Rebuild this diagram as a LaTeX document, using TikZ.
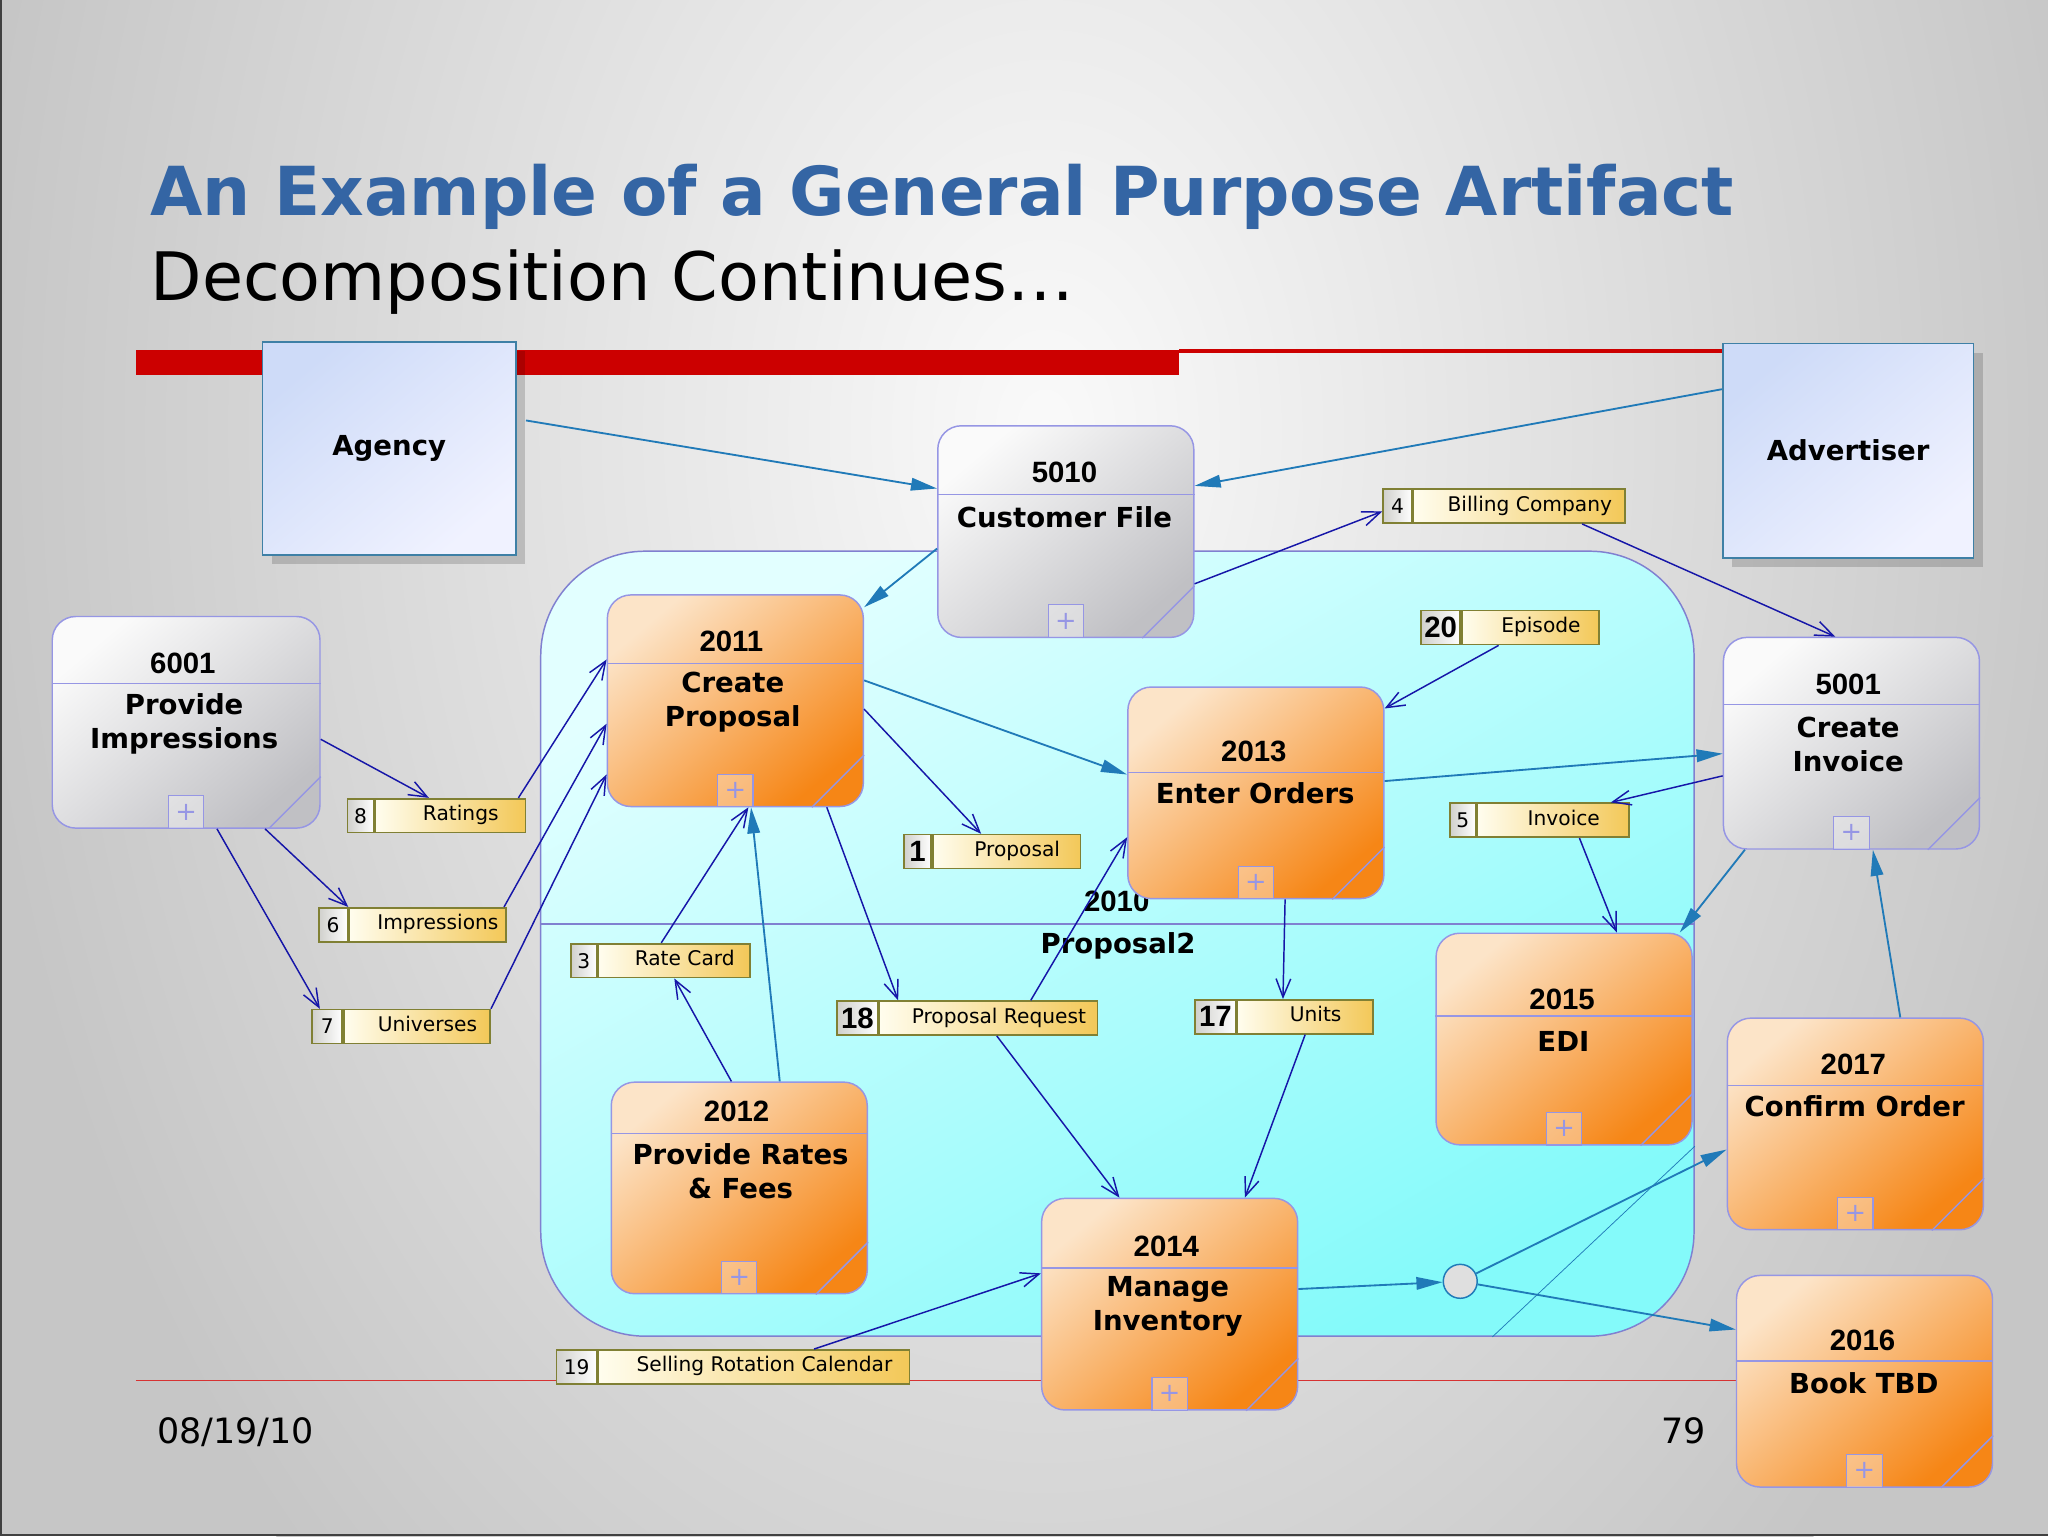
\documentclass[tikz,border=0pt]{standalone}
\usepackage{fontspec}
\setmainfont{DejaVu Sans}
\newfontfamily\narrowfont{Liberation Sans}
\usetikzlibrary{positioning, arrows.meta, shadows}
\definecolor{ttlblue}{RGB}{52,101,164}
\definecolor{slidered}{RGB}{204,0,0}
\definecolor{lavender}{RGB}{150,150,228}
\definecolor{contline}{RGB}{128,128,208}
\definecolor{flowteal}{RGB}{32,122,184}
\definecolor{flowblue}{RGB}{22,22,168}
\definecolor{olive}{RGB}{128,128,52}
\definecolor{entline}{RGB}{62,128,166}
\definecolor{orangeA}{RGB}{252,228,200}
\definecolor{orangeB}{RGB}{246,134,22}
\definecolor{grayA}{RGB}{250,250,250}
\definecolor{grayB}{RGB}{192,192,196}
\definecolor{cyanA}{RGB}{226,255,255}
\definecolor{cyanB}{RGB}{132,250,250}
\definecolor{entA}{RGB}{206,219,248}
\definecolor{entB}{RGB}{240,242,255}
\definecolor{flowA}{RGB}{255,253,238}
\definecolor{flowB}{RGB}{243,200,88}
\definecolor{cellA}{RGB}{208,208,204}

\begin{document}
\begin{tikzpicture}[x=0.25mm, y=-0.25mm,
        procbox/.style={draw=lavender, line width=0.8pt, rounded corners=4.5mm,
            minimum width=49mm, minimum height=40.5mm, inner sep=0pt},
        oproc/.style={procbox, top color=orangeA, bottom color=orangeB, shading angle=40},
        gproc/.style={procbox, top color=grayA, bottom color=grayB, shading angle=40},
        contbox/.style={draw=contline, line width=0.8pt, rounded corners=20mm,
            top color=cyanA, bottom color=cyanB, shading angle=30,
            minimum width=220.75mm, minimum height=150.25mm, inner sep=0pt},
        entbox/.style={draw=entline, line width=1pt, top color=entA, bottom color=entB,
            shading angle=40, minimum width=48.5mm, minimum height=40.75mm,
            font=\bfseries\fontsize{15}{18}\selectfont,
            drop shadow={shadow xshift=1.75mm, shadow yshift=-1.75mm, fill=black, opacity=0.16}},
        hdr/.style={draw=lavender, line width=0.8pt},
        pnum/.style={font=\narrowfont\bfseries\fontsize{16}{18}\selectfont, inner sep=0pt},
        pname/.style={font=\bfseries\fontsize{15}{18.5}\selectfont, align=center, inner sep=0pt},
        plusbox/.style={draw=lavender, line width=0.6pt, fill=white, fill opacity=0.35,
            text opacity=1, text=lavender, minimum width=6.75mm, minimum height=6.25mm,
            inner sep=0pt, font=\fontsize{14}{14}\selectfont},
        numbox/.style={draw=olive, line width=0.9pt, left color=cellA, right color=white,
            minimum width=5.5mm, minimum height=6.5mm, inner sep=0pt,
            font=\fontsize{11}{12}\selectfont},
        bignum/.style={numbox, minimum width=7.75mm,
            font=\narrowfont\bfseries\fontsize{16}{17}\selectfont},
        flowbox/.style={draw=olive, line width=0.9pt, left color=flowA, right color=flowB,
            minimum height=6.5mm, inner sep=0pt, text height=8pt, text depth=2.5pt,
            font=\fontsize{11}{12}\selectfont, execute at begin node={\hspace*{4mm}}},
        junction/.style={draw=flowteal, line width=0.8pt, fill=gray!25, circle,
            minimum size=6.5mm, inner sep=0pt},
        tealflow/.style={draw=flowteal, line width=1pt, -{Triangle[length=5mm, width=2.4mm]}},
        blueflow/.style={draw=flowblue, line width=0.8pt, -{Straight Barb[length=3.5mm, width=2.8mm]}}
    ]

    % Slide background
    \useasboundingbox (0,0) rectangle (1568,1176);
    \begin{scope}
        \clip (0,0) rectangle (1568,1176);
        \fill[gray!45] (0,0) rectangle (1568,1176);
        \shade[inner color=gray!4, outer color=gray!45] (800,330) ellipse (830 and 1200);
    \end{scope}
    \draw[black!75, line width=1.2pt] (1,0) -- (1,1175) -- (1568,1175);

    % Title
    \node[anchor=base west, inner sep=0pt, text=ttlblue,
          font=\bfseries\fontsize{36.8}{40}\selectfont] (ttl) at (115,165)
        {An Example of a General Purpose Artifact};
    \node[anchor=base west, inner sep=0pt, font=\fontsize{36.4}{40}\selectfont] (sub) at (115,230)
        {Decomposition Continues…};

    % Rules
    \fill[slidered] (104,268) rectangle (903,287);
    \fill[slidered] (903,267.5) rectangle (1320,270);
    \draw[slidered!80, line width=0.5pt] (104,1057) -- (1330,1057);

    % Footer
    \node[anchor=base west, inner sep=0pt, font=\fontsize{19}{22}\selectfont] (date) at (120,1105) {08/19/10};
    \node[anchor=base west, inner sep=0pt, font=\fontsize{19}{22}\selectfont] (page) at (1272,1105) {79};

    % 2010 Proposal2
    \node[contbox] (p2010) at (855.5,722.5) {};
    \draw[hdr, draw=contline] ([yshift=-71.5mm]p2010.north west) -- ([yshift=-71.5mm]p2010.north east);
    \draw[flowteal, line width=0.4pt] ([xshift=-38.75mm]p2010.south east) -- ([yshift=36.5mm]p2010.south east);
    \node[pnum] (t2010) at (855,690) {2010};
    \node[pname] (l2010) at (856,724) {Proposal2};

    % External entities
    \node[entbox] (ag) at (298,343.5) {Agency};
    \node[entbox, minimum width=48mm, minimum height=41mm] (adv) at (1415,345) {Advertiser};

    % 6001 Provide Impressions
    \node[gproc, minimum width=51.25mm] (p6001) at (142.5,553) {};
    \draw[hdr] ([yshift=-13mm]p6001.north west) -- ([yshift=-13mm]p6001.north east);
    \draw[hdr] ([xshift=-10mm]p6001.south east) -- ([yshift=10mm]p6001.south east);
    \node[plusbox, above=0pt of p6001.south] (x6001) {+};
    \node[pnum] (t6001) at (140,508) {6001};
    \node[pname] (l6001) at (141,554) {Provide\\Impressions};

    % 5010 Customer File
    \node[gproc] (p5010) at (816,407) {};
    \draw[hdr] ([yshift=-13.25mm]p5010.north west) -- ([yshift=-13.25mm]p5010.north east);
    \draw[hdr] ([xshift=-10mm]p5010.south east) -- ([yshift=10mm]p5010.south east);
    \node[plusbox, above=0pt of p5010.south] (x5010) {+};
    \node[pnum] (t5010) at (815,362) {5010};
    \node[pname] (l5010) at (815,396) {Customer File};

    % 2011 Create Proposal
    \node[oproc] (p2011) at (563,536.5) {};
    \draw[hdr] ([yshift=-13.25mm]p2011.north west) -- ([yshift=-13.25mm]p2011.north east);
    \draw[hdr] ([xshift=-10mm]p2011.south east) -- ([yshift=10mm]p2011.south east);
    \node[plusbox, above=0pt of p2011.south] (x2011) {+};
    \node[pnum] (t2011) at (560,491) {2011};
    \node[pname] (l2011) at (561,537.5) {Create\\Proposal};

    % 2013 Enter Orders
    \node[oproc] (p2013) at (961.5,607) {};
    \draw[hdr] ([yshift=-16.5mm]p2013.north west) -- ([yshift=-16.5mm]p2013.north east);
    \draw[hdr] ([xshift=-10mm]p2013.south east) -- ([yshift=10mm]p2013.south east);
    \node[plusbox, above=0pt of p2013.south] (x2013) {+};
    \node[pnum] (t2013) at (960,575) {2013};
    \node[pname] (l2013) at (961,607) {Enter Orders};

    % 5001 Create Invoice
    \node[gproc] (p5001) at (1417.5,569) {};
    \draw[hdr] ([yshift=-13mm]p5001.north west) -- ([yshift=-13mm]p5001.north east);
    \draw[hdr] ([xshift=-10mm]p5001.south east) -- ([yshift=10mm]p5001.south east);
    \node[plusbox, above=0pt of p5001.south] (x5001) {+};
    \node[pnum] (t5001) at (1415,524) {5001};
    \node[pname] (l5001) at (1415,570) {Create\\Invoice};

    % 2015 EDI
    \node[oproc] (p2015) at (1197.5,795.5) {};
    \draw[hdr] ([yshift=-16mm]p2015.north west) -- ([yshift=-16mm]p2015.north east);
    \draw[hdr] ([xshift=-10mm]p2015.south east) -- ([yshift=10mm]p2015.south east);
    \node[plusbox, above=0pt of p2015.south] (x2015) {+};
    \node[pnum] (t2015) at (1196,765) {2015};
    \node[pname] (l2015) at (1197,797) {EDI};

    % 2017 Confirm Order
    \node[oproc] (p2017) at (1420.5,860.5) {};
    \draw[hdr] ([yshift=-13mm]p2017.north west) -- ([yshift=-13mm]p2017.north east);
    \draw[hdr] ([xshift=-10mm]p2017.south east) -- ([yshift=10mm]p2017.south east);
    \node[plusbox, above=0pt of p2017.south] (x2017) {+};
    \node[pnum] (t2017) at (1419,815) {2017};
    \node[pname] (l2017) at (1420,847) {Confirm Order};

    % 2012 Provide Rates & Fees
    \node[oproc] (p2012) at (566,909.5) {};
    \draw[hdr] ([yshift=-10mm]p2012.north west) -- ([yshift=-10mm]p2012.north east);
    \draw[hdr] ([xshift=-10mm]p2012.south east) -- ([yshift=10mm]p2012.south east);
    \node[plusbox, above=0pt of p2012.south] (x2012) {+};
    \node[pnum] (t2012) at (564,851) {2012};
    \node[pname] (l2012) at (567,897) {Provide Rates\\\& Fees};

    % 2014 Manage Inventory
    \node[oproc] (p2014) at (895.5,998.5) {};
    \draw[hdr] ([yshift=-13.5mm]p2014.north west) -- ([yshift=-13.5mm]p2014.north east);
    \draw[hdr] ([xshift=-10mm]p2014.south east) -- ([yshift=10mm]p2014.south east);
    \node[plusbox, above=0pt of p2014.south] (x2014) {+};
    \node[pnum] (t2014) at (893,954) {2014};
    \node[pname] (l2014) at (894,1000) {Manage\\Inventory};

    % 2016 Book TBD
    \node[oproc] (p2016) at (1427.5,1057.5) {};
    \draw[hdr] ([yshift=-16.5mm]p2016.north west) -- ([yshift=-16.5mm]p2016.north east);
    \draw[hdr] ([xshift=-10mm]p2016.south east) -- ([yshift=10mm]p2016.south east);
    \node[plusbox, above=0pt of p2016.south] (x2016) {+};
    \node[pnum] (t2016) at (1426,1026) {2016};
    \node[pname] (l2016) at (1427,1059) {Book TBD};

    % Data stores
    \node[numbox] (n4) at (1070,387.5) {4};
    \node[flowbox, minimum width=40.5mm, right=0pt of n4] (f4) {Billing Company};
    \node[bignum, minimum width=7.5mm] (n20) at (1103,480.5) {20};
    \node[flowbox, minimum width=26.25mm, right=0pt of n20] (f20) {Episode};
    \node[numbox, minimum width=5mm] (n8) at (276,624.5) {8};
    \node[flowbox, minimum width=28.75mm, right=0pt of n8] (f8) {Ratings};
    \node[bignum, minimum width=5.25mm] (n1) at (702.5,652) {1};
    \node[flowbox, minimum width=28.25mm, right=0pt of n1] (f1) {Proposal};
    \node[numbox, minimum width=5mm] (n5) at (1120,628) {5};
    \node[flowbox, minimum width=29mm, right=0pt of n5] (f5) {Invoice};
    \node[numbox] (n6) at (255,708) {6};
    \node[flowbox, minimum width=30mm, right=0pt of n6] (f6) {Impressions};
    \node[numbox, minimum width=5mm] (n3) at (447,735.5) {3};
    \node[flowbox, minimum width=29mm, right=0pt of n3] (f3) {Rate Card};
    \node[numbox, minimum width=5.75mm] (n7) at (250.5,786) {7};
    \node[flowbox, minimum width=28mm, right=0pt of n7] (f7) {Universes};
    \node[bignum] (n18) at (656.5,779.5) {18};
    \node[flowbox, minimum width=41.75mm, right=0pt of n18] (f18) {Proposal Request};
    \node[bignum] (n17) at (930.5,778.5) {17};
    \node[flowbox, minimum width=26mm, right=0pt of n17] (f17) {Units};
    \node[numbox, minimum width=7.75mm] (n19) at (441.5,1046.5) {19};
    \node[flowbox, minimum width=59.5mm, right=0pt of n19] (f19) {Selling Rotation Calendar};

    % Junction
    \node[junction] (jn) at (1118,981) {};

    % Control flows
    \draw[tealflow] ([xshift=1.75mm, yshift=5.4mm]ag.east) -- ([yshift=8.25mm]p5010.west);
    \draw[tealflow] ([yshift=11.75mm]adv.west) -- ([yshift=8.75mm]p5010.east);
    \draw[tealflow] ([yshift=-3.25mm]p5010.west) -- ([yshift=-2.5mm]p2011.north east);
    \draw[tealflow] ([yshift=3.9mm]p2011.east) -- ([yshift=3.5mm]p2013.west);
    \draw[tealflow] ([xshift=7.75mm]p2012.north) -- ([xshift=3mm]p2011.south);
    \draw[tealflow] ([yshift=2.25mm]p2013.east) -- ([yshift=-2mm]p5001.west);
    \draw[tealflow] ([xshift=4.25mm]p5001.south west) -- ([xshift=-2.5mm]p2015.north east);
    \draw[tealflow] ([xshift=8.6mm]p2017.north) -- ([xshift=4.1mm]p5001.south);
    \draw[tealflow] ([yshift=2.9mm]p2014.east) -- (jn);
    \draw[tealflow] (jn) -- ([yshift=-4.9mm]p2017.west);
    \draw[tealflow] (jn) -- ([yshift=9.9mm]p2016.west);

    % Data flows
    \draw[blueflow] ([yshift=-3.25mm]p6001.east) -- ([xshift=-4.1mm]f8.north);
    \draw[blueflow] ([xshift=15.1mm]p6001.south) -- (f6.north west);
    \draw[blueflow] ([xshift=5.9mm]p6001.south) -- ([xshift=-1.4mm]n7.north);
    \draw[blueflow] ([xshift=-1.5mm]f8.north east) -- ([yshift=7.9mm]p2011.west);
    \draw[blueflow] ([xshift=-0.5mm]f6.north east) -- ([yshift=-4.4mm]p2011.west);
    \draw[blueflow] (f7.north east) -- ([yshift=-14.1mm]p2011.west);
    \draw[blueflow] ([xshift=-2.5mm]f3.north) -- ([xshift=2.5mm]p2011.south);
    \draw[blueflow] ([xshift=-1.5mm]p2012.north) -- (f3.south);
    \draw[blueflow] ([yshift=-1.6mm]p2011.east) -- ([xshift=-4.9mm]f1.north);
    \draw[blueflow] ([xshift=17.5mm]p2011.south) -- ([xshift=3.75mm]f18.north west);
    \draw[blueflow] ([xshift=8.1mm]f18.north) -- ([yshift=-8.5mm]p2013.west);
    \draw[blueflow] ([xshift=1.6mm]f18.south) -- ([xshift=-9.6mm]p2014.north);
    \draw[blueflow] ([xshift=5.6mm]p2013.south) -- ([xshift=-4.25mm]f17.north);
    \draw[blueflow] (f17.south) -- ([xshift=14.4mm]p2014.north);
    \draw[blueflow] ([xshift=-6.1mm]f20.south) -- ([yshift=-4.25mm]p2013.north east);
    \draw[blueflow] ([yshift=-10mm]p5010.east) -- ([yshift=-1mm]n4.west);
    \draw[blueflow] ([xshift=12mm]f4.south) -- ([xshift=-3.1mm]p5001.north);
    \draw[blueflow] ([yshift=-6.25mm]p5001.west) -- ([xshift=11mm]f5.north);
    \draw[blueflow] ([xshift=5mm]f5.south) -- ([xshift=10.1mm]p2015.north);
    \draw[blueflow] ([xshift=11.5mm]f19.north) -- ([yshift=5.9mm]p2014.west);

\end{tikzpicture}
\end{document}
